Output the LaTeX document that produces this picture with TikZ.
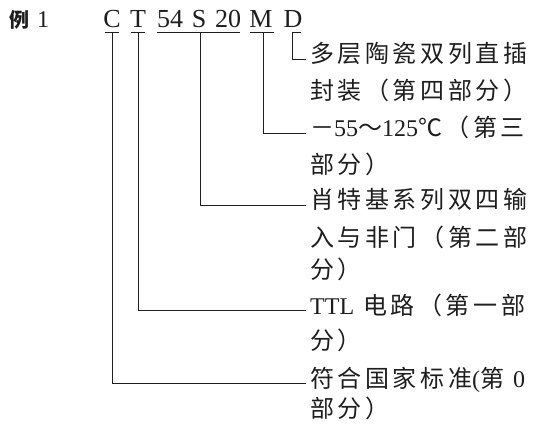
\documentclass[tikz,border=0pt]{standalone}
\usepackage{fontspec}
\setmainfont{Liberation Serif}
\newfontfamily\cjk[LetterSpace=15]{Noto Sans CJK SC}
\usetikzlibrary{positioning}
\definecolor{ink}{RGB}{30,30,30}
\newcommand\lat[1]{{\rmfamily #1}}
\tikzset{
  code/.style={font=\fontsize{26}{30}\selectfont,text=ink,inner sep=0pt,anchor=base},
  entry/.style={font=\fontsize{24}{36}\selectfont\cjk,text=ink,inner xsep=4pt,inner ysep=0pt,
    anchor=base west,text height=0.85em,text depth=0.1em},
  lead/.style={draw=ink,line width=1pt},
}
\begin{document}
\begin{tikzpicture}[x=1pt,y=-1pt]
  \useasboundingbox (0,0) rectangle (534,427);
  % heading and code
  \node[font=\fontsize{20}{24}\selectfont\cjk,text=ink,inner sep=0pt,anchor=base west] (ex) at (9,28) {\bfseries 例\hspace{8pt}\lat{\mdseries\fontsize{24}{24}\selectfont 1}};
  \node[code] (cC) at (112,28) {C};
  \node[code] (cT) at (138,28) {T};
  \node[code] (c54) at (170,28) {54};
  \node[code] (cS) at (199,28) {S};
  \node[code] (c20) at (228,28) {20};
  \node[code] (cM) at (261,28) {M};
  \node[code] (cD) at (293,28) {D};
  % brackets under the parts
  \draw[lead] (105,33) -- (119,33) (131,33) -- (145,33) (157,33) -- (240,33) (250,33) -- (274,33) (292,33) -- (301,33);
  \coordinate (bC) at (112,33);
  \coordinate (bT) at (138,33);
  \coordinate (bS) at (200,33);
  \coordinate (bM) at (263,33);
  \coordinate (bD) at (292,33);
  % explanations
  \node[entry] (d1) at (306,63) {多层陶瓷双列直插};
  \node[entry] (d2) at (306,100) {封装（第四部分）};
  \node[entry] (m1) at (306,137) {－\lat{55}～\lat{125}℃（第三};
  \node[entry] (m2) at (306,174) {部分）};
  \node[entry] (s1) at (306,209) {肖特基系列双四输};
  \node[entry] (s2) at (306,246) {入与非门（第二部};
  \node[entry] (s3) at (306,278) {分）};
  \node[entry] (t1) at (306,314) {\lat{TTL} 电路（第一部};
  \node[entry] (t2) at (306,349) {分）};
  \node[entry] (z1) at (306,387) {符合国家标准\lat{(}第 \lat{0}};
  \node[entry] (z2) at (306,417) {部分）};
  % leads
  \draw[lead] (bD) |- (d1.west);
  \draw[lead] (bM) |- (m1.west);
  \draw[lead] (bS) |- (s1.west);
  \draw[lead] (bT) |- (t1.west);
  \draw[lead] (bC) |- (z1.west);
\end{tikzpicture}
\end{document}
